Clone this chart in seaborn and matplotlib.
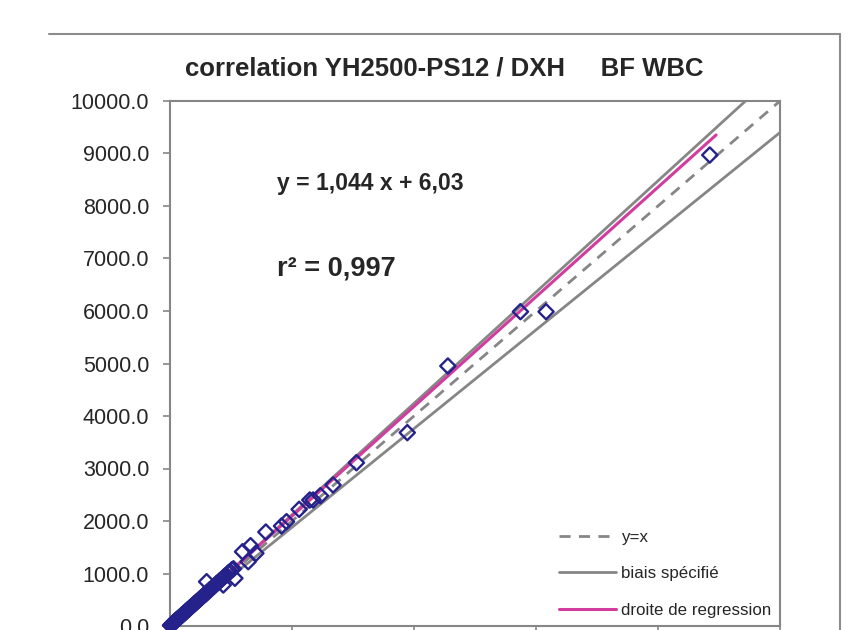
import matplotlib
matplotlib.use("Agg")
import matplotlib.pyplot as plt
from matplotlib.lines import Line2D
import pandas as pd
import seaborn as sns

# measured points (DXH on x, YH2500-PS12 on y)
dxh = [8, 15, 22, 30, 38, 45, 55, 62, 70, 80, 90, 98, 108, 118, 130, 140, 152, 165, 178, 190,
       205, 218, 232, 248, 262, 278, 292, 310, 325, 342, 358, 375, 392, 410, 428, 445, 465, 485,
       502, 520, 540, 560, 582, 605, 628, 650, 672, 695, 718, 742, 765, 790, 815, 842, 868, 895,
       925, 955, 985, 1015, 1040,
       600, 873, 1064, 1282, 1189, 1320, 1408, 1571, 1828, 1910, 2117, 2291, 2346, 2466, 2673,
       3056, 3890, 4555, 5745, 6165, 8849]
yh = [10, 14, 25, 33, 36, 50, 58, 70, 72, 86, 99, 101, 118, 122, 139, 150, 158, 176, 184, 203,
      212, 232, 241, 262, 276, 290, 311, 322, 345, 356, 381, 392, 415, 428, 452, 467, 486, 512,
      525, 548, 566, 590, 605, 640, 655, 690, 706, 732, 752, 780, 810, 828, 862, 885, 912, 946,
      968, 1010, 1035, 1072, 1090,
      844, 781, 909, 1225, 1415, 1530, 1385, 1790, 1905, 1987, 2222, 2400, 2400, 2482, 2686,
      3110, 3683, 4952, 5987, 5987, 8971]

# reference lines
slope, intercept = 1.044, 6.03
bias = 0.06
ref_x = [0, 10000]
reg_x = [0, 8953]

pts = pd.DataFrame({"DXH": dxh, "YH": yh})
ident = pd.DataFrame({"x": ref_x, "y": ref_x})
upper = pd.DataFrame({"x": ref_x, "y": [v * (1 + bias) for v in ref_x]})
lower = pd.DataFrame({"x": ref_x, "y": [v * (1 - bias) for v in ref_x]})
reg = pd.DataFrame({"x": reg_x, "y": [slope * v + intercept for v in reg_x]})

sns.set_style("white")
plt.rcParams["font.family"] = ["Liberation Sans", "DejaVu Sans"]

fig = plt.figure(figsize=(8.63, 6.3), dpi=100)
ax = fig.add_axes([170 / 863, 4 / 630, 610 / 863, 525 / 630])

grey = "#868686"
sns.lineplot(data=ident, x="x", y="y", ax=ax, color=grey, lw=2, dashes=False,
             linestyle=(0, (4, 3)), label="y=x")
sns.lineplot(data=upper, x="x", y="y", ax=ax, color=grey, lw=2, label="biais spécifié")
sns.lineplot(data=lower, x="x", y="y", ax=ax, color=grey, lw=2, label="_nolegend_")
sns.lineplot(data=reg, x="x", y="y", ax=ax, color="#D23C9E", lw=2.2, label="droite de regression")
sns.scatterplot(data=pts, x="DXH", y="YH", ax=ax, marker="D", s=60, facecolor="none",
                edgecolor="#25228C", linewidth=1.7, clip_on=False, zorder=5)

ax.set_xlim(0, 10000)
ax.set_ylim(0, 10000)
ax.set_xticks(range(0, 10001, 2000))
ax.set_yticks(range(0, 10001, 1000))
ax.set_yticklabels([f"{v:.1f}" for v in range(0, 10001, 1000)], fontsize=15.5)
ax.tick_params(axis="x", labelbottom=False)
ax.tick_params(direction="out", length=5, width=1.2, color=grey, left=True, bottom=True, pad=10)
ax.set_xlabel("")
ax.set_ylabel("")
for sp in ax.spines.values():
    sp.set_color(grey)
    sp.set_linewidth(1.5)

ax.text(1751, 8438, "y = 1,044 x + 6,03", fontsize=16.5, fontweight="bold", ha="left", va="center")
ax.text(1751, 6819, "r² = 0,997", fontsize=19.5, fontweight="bold", ha="left", va="center")

leg = ax.legend(loc="lower right", frameon=False, fontsize=12.2, handlelength=3.4,
                labelspacing=1.25, handletextpad=0.3, borderaxespad=0.1)

fig.text(444 / 863, 1 - 68 / 630, "correlation YH2500-PS12 / DXH     BF WBC", fontsize=18.5,
         fontweight="bold", ha="center", va="center")

# outer chart frame (partly cropped)
fig.add_artist(Line2D([49 / 863, 840 / 863], [1 - 34 / 630, 1 - 34 / 630], color="#8c8c8c", lw=1.5))
fig.add_artist(Line2D([840 / 863, 840 / 863], [1 - 34 / 630, 0], color="#8c8c8c", lw=1.5))

fig.savefig("out.png", dpi=100)
